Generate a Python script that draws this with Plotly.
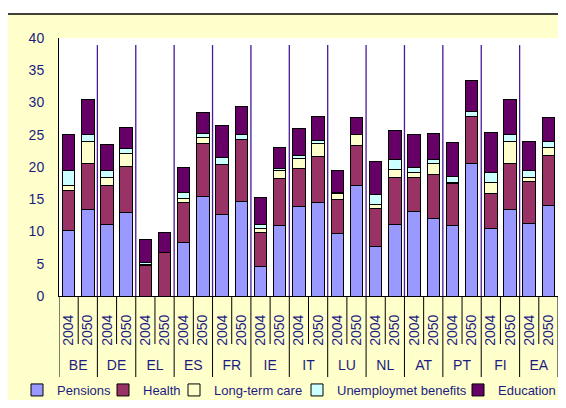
import plotly.graph_objects as go

# ---------------- data ----------------
countries = ["BE", "DE", "EL", "ES", "FR", "IE", "IT", "LU", "NL", "AT", "PT", "FI", "EA"]
years = ["2004", "2050"]

pensions = [10.2, 13.4, 11.1, 12.9, 0.0, 0.0, 8.3, 15.4, 12.6, 14.6, 4.5, 10.9, 13.9,
            14.5, 9.7, 17.1, 7.6, 11.1, 13.1, 12.0, 10.9, 20.5, 10.4, 13.4, 11.2, 14.0]
health = [6.2, 7.2, 6.0, 7.2, 4.8, 6.7, 6.2, 8.3, 7.8, 9.6, 5.3, 7.3, 5.9,
          7.1, 5.3, 6.3, 6.0, 7.3, 5.3, 6.9, 6.6, 7.3, 5.5, 7.2, 6.5, 7.8]
long_term_care = [0.8, 3.3, 1.2, 2.0, 0.1, 0.0, 0.6, 0.9, 0.0, 0.0, 0.7, 1.2, 1.5,
                  2.1, 0.9, 1.6, 0.6, 1.2, 0.7, 1.6, 0.1, 0.1, 1.7, 3.4, 0.6, 1.3]
unemployment = [2.2, 1.2, 1.1, 0.8, 0.3, 0.0, 1.0, 0.6, 1.1, 0.8, 0.6, 0.4, 0.5,
                0.4, 0.2, 0.1, 1.6, 1.5, 0.8, 0.6, 1.0, 0.7, 1.6, 1.1, 1.2, 0.9]
education = [5.7, 5.3, 4.1, 3.2, 3.6, 3.2, 3.9, 3.3, 5.0, 4.4, 4.2, 3.3, 4.2,
             3.8, 3.3, 2.6, 5.0, 4.5, 5.1, 4.1, 5.2, 4.8, 6.2, 5.3, 4.5, 3.7]

series_names = ["Pensions", "Health", "Long-term care", "Unemploymet benefits", "Education"]
y_ticks = [0, 5, 10, 15, 20, 25, 30, 35, 40]

# ---------------- styles ----------------
colors = ["#9999FF", "#993366", "#FFFFCC", "#CCFFFF", "#660066"]
TXT = "#1C1C80"
FONT = "Arial, Liberation Sans, sans-serif"
OFF = 8                      # page body margin
W, H = 550, 392              # figure size (placed at 8,8 in the page, no overflow)
ML, MR, MT, MB = 51, 0, 30, 104
PW, PH = W - ML - MR, H - MT - MB
XRANGE = [-0.5, 25.5]


def px2x(page_px):
    return (page_px - OFF - ML) / PW


def px2y(page_py):
    return (H - MB - (page_py - OFF)) / PH


bar_keys = [f"{c} {y}" for c in countries for y in years]
bar_years = [y for _ in countries for y in years]
n = len(bar_keys)
ny = len(years)
group_centers = [g * ny + (ny - 1) / 2 for g in range(len(countries))]

fig = go.Figure()
all_series = [pensions, health, long_term_care, unemployment, education]
for i, (name, vals) in enumerate(zip(series_names, all_series)):
    fig.add_trace(go.Bar(
        x=bar_keys, y=vals, name=name,
        marker=dict(color=colors[i], line=dict(color="black", width=1)),
        legend="legend" if i == 0 else f"legend{i+1}",
    ))
# carrier for the country-label axis
fig.add_trace(go.Scatter(x=group_centers, y=[None] * len(group_centers), xaxis="x2",
                         mode="markers", showlegend=False, hoverinfo="skip"))

shapes = []
shapes.append(dict(type="rect", xref="paper", yref="paper", x0=px2x(0), x1=px2x(W + 20),
                   y0=px2y(14), y1=px2y(0), fillcolor="white", line=dict(width=0), layer="below"))
shapes.append(dict(type="line", xref="paper", yref="paper", x0=px2x(8), x1=px2x(W + 20),
                   y0=px2y(14), y1=px2y(14), line=dict(color="black", width=1.5)))
for g in range(1, len(countries)):
    xb = g * ny - 0.5
    shapes.append(dict(type="line", xref="x", yref="y", x0=xb, x1=xb, y0=-0.6, y1=38.9,
                       line=dict(color="#4A1A9A", width=1.3), layer="below"))
for k in range(n + 1):
    xb = k - 0.5
    bottom = 377 if k % ny == 0 else 344
    shapes.append(dict(type="line", xref="x", yref="paper", x0=xb, x1=xb,
                       y0=0, y1=px2y(bottom), line=dict(color="black", width=1)))

legend_text_px = [58, 144, 215, 338, 499]
legend_common = dict(orientation="h", y=px2y(390), yanchor="middle", xanchor="left",
                     bgcolor="rgba(0,0,0,0)", font=dict(family=FONT, size=13, color=TXT),
                     itemwidth=30, traceorder="normal")
legends = {}
for i, tx in enumerate(legend_text_px):
    key = "legend" if i == 0 else f"legend{i+1}"
    legends[key] = dict(legend_common, x=px2x(tx - 41))

fig.update_layout(
    width=W, height=H,
    margin=dict(l=ML, r=MR, t=MT, b=MB, autoexpand=False),
    paper_bgcolor="#FFFFCC",
    plot_bgcolor="white",
    barmode="stack",
    bargap=0.35,
    showlegend=True,
    font=dict(family=FONT, size=14, color=TXT),
    xaxis=dict(
        type="category",
        categoryorder="array", categoryarray=bar_keys,
        tickvals=bar_keys, ticktext=bar_years,
        range=XRANGE,
        tickangle=-90,
        ticks="outside", ticklen=12, tickcolor="rgba(0,0,0,0)",
        showline=True, linecolor="black", linewidth=1,
        tickfont=dict(family=FONT, size=14, color=TXT),
        showgrid=False,
        automargin=False,
    ),
    xaxis2=dict(
        overlaying="x", anchor="free", position=0, side="bottom",
        type="linear", range=XRANGE,
        tickvals=group_centers, ticktext=countries,
        tickangle=0, ticks="", showline=False, showgrid=False, zeroline=False,
        tickfont=dict(family=FONT, size=14, color=TXT),
        ticklabelstandoff=59,
        automargin=False,
    ),
    yaxis=dict(
        range=[0, 40],
        tickvals=y_ticks,
        showgrid=False,
        zeroline=False,
        showline=True, linecolor="black", linewidth=1,
        ticks="outside", ticklen=11, tickcolor="rgba(0,0,0,0)",
        tickfont=dict(family=FONT, size=14, color=TXT),
        automargin=False,
    ),
    shapes=shapes,
    **legends,
)

fig.write_html("out.html")
